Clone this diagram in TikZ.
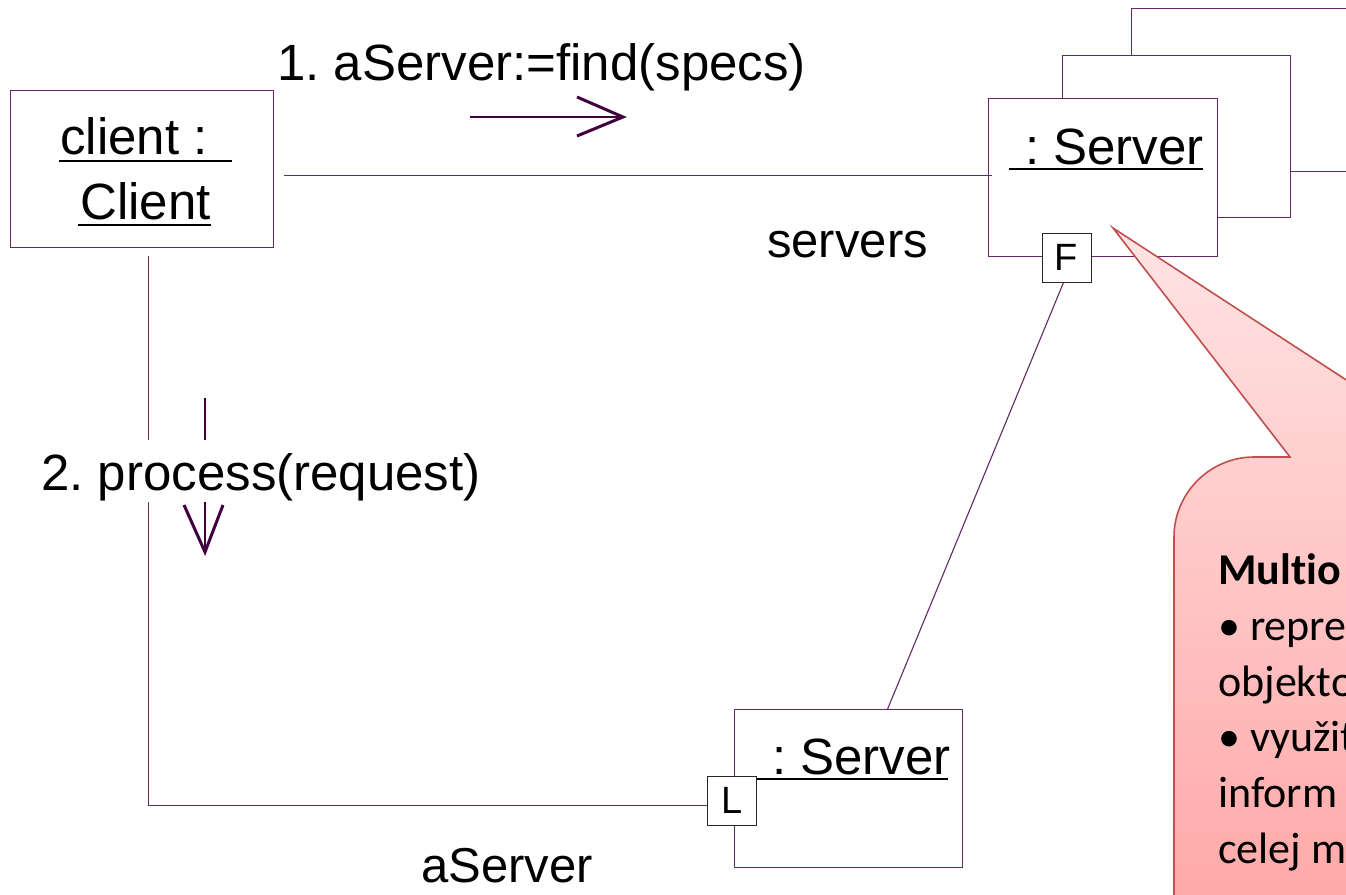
\documentclass[tikz,border=0pt]{standalone}
\usepackage{fontspec}
\setmainfont{Liberation Sans}
\newfontfamily\calib[Ligatures=NoCommon]{Carlito}
\usetikzlibrary{calc}
\frenchspacing
\begin{document}
\begin{tikzpicture}[x=1pt,y=-1pt]
\definecolor{umlc}{RGB}{100,40,100}
\definecolor{arrc}{RGB}{64,0,64}
\definecolor{cborder}{RGB}{192,80,77}
\definecolor{ctop}{RGB}{255,228,228}
\definecolor{cbot}{RGB}{255,166,166}
\tikzset{
  objbox/.style={draw=umlc, line width=1.2pt, fill=white, inner sep=0pt, anchor=north west},
  link/.style={draw=umlc, line width=1.1pt},
  msgshaft/.style={draw=arrc, line width=1.2pt},
  msghead/.style={draw=arrc, line width=3pt},
  big/.style={font=\fontsize{51}{60}\selectfont, inner sep=0pt},
  role/.style={font=\fontsize{49}{58}\selectfont, inner sep=0pt, anchor=base west},
  portbox/.style={draw=black!85, line width=1pt, fill=white, minimum size=49pt, inner sep=0pt, font=\fontsize{38}{40}\selectfont},
  uline/.style={draw=black, line width=2.6pt},
  callout/.style={draw=cborder, line width=1.6pt, top color=ctop, bottom color=cbot},
  ctext/.style={font=\calib\fontsize{44}{52}\selectfont, inner sep=0pt, anchor=base west},
}
\useasboundingbox (0,0) rectangle (1346,894);
\begin{scope}
\clip (0,0) rectangle (1346,894);
\fill[white] (0,0) rectangle (1346,894);

% client object
\node[objbox, minimum width=263pt, minimum height=157pt] (client) at (10,90) {};
\node[big, anchor=base west] (clientt1) at (60,154) {client :};
\node[big, anchor=base west] (clientt2) at (80,219) {Client};
\draw[uline] (59,161) -- (232,161);
\draw[uline] (78,225) -- (211,225);

% stacked server multiobject
\node[objbox, minimum width=320pt, minimum height=163pt] (srv3) at (1131,8) {};
\node[objbox, minimum width=228pt, minimum height=162pt] (srv2) at (1062,55) {};
\node[objbox, minimum width=229pt, minimum height=158pt] (srv) at (988,98) {};
\node[big, anchor=base west] (srvt) at (1025,164) {:\ Server};
\draw[uline] (1009,169) -- (1203,169);

% link client - servers
\draw[link] ($(client.east |- srv.west)+(10,-2)$) -- ($(srv.west)+(4,-2)$);

% lower server
\node[objbox, minimum width=228pt, minimum height=158pt] (srvL) at (734,709) {};
\node[big, anchor=base west] (srvLt) at (772,774) {:\ Server};
\draw[uline] (757,779) -- (948,779);

% ports
\node[portbox] (fport) at (1066.5,257.5) {F};
\node[portbox] (lport) at (732,800.5) {L};

% links
\draw[link] ($(client.south)+(6.5,8)$) |- ($(lport.west)+(0,5)$);
\draw[link] ($(fport.south)+(-3,0)$) -- ($(srvL.north)+(39,0)$);

% message 1
\coordinate (m1s) at (470,117);
\coordinate (m1e) at (623,117);
\draw[msgshaft] (m1s) -- (m1e);
\draw[msghead, line join=miter] ($(m1e)+(-46,-20)$) -- (m1e) -- ($(m1e)+(-46,19)$);
\node[big, anchor=base west] (m1lab) at (277,80) {1. aServer:=find(specs)};

% message 2
\coordinate (m2s) at (205,398);
\coordinate (m2e) at (205,552);
\draw[msgshaft] (m2s) -- (m2e);
\draw[msghead, line join=miter] ($(m2e)+(-21,-47)$) -- (m2e) -- ($(m2e)+(18,-47)$);
\node[big, fill=white, text height=50pt, text depth=12pt, inner ysep=0pt, inner xsep=4pt] (m2lab) at (261,471) {2. process(request)};

% role labels
\node[role] (rolesrv) at (767,257) {servers};
\node[role] (roleas) at (421,882) {aServer};

% callout
\path[callout] (1113,228) -- (1290,457) -- (1254,457)
   .. controls (1210,457) and (1174,493) .. (1174,537)
   -- (1174,930) -- (1440,930) -- (1440,441) -- cycle;
\node[ctext, font=\calib\bfseries\fontsize{44}{52}\selectfont] (ct1) at (1218,584) {Multio};
\node[ctext] (ct2) at (1218,640) {• repre};
\node[ctext] (ct3) at (1218,696) {objekto};
\node[ctext] (ct4) at (1218,751) {• využit};
\node[ctext] (ct5) at (1218,807) {inform};
\node[ctext] (ct6) at (1218,863) {celej m};
\end{scope}
\end{tikzpicture}
\end{document}
